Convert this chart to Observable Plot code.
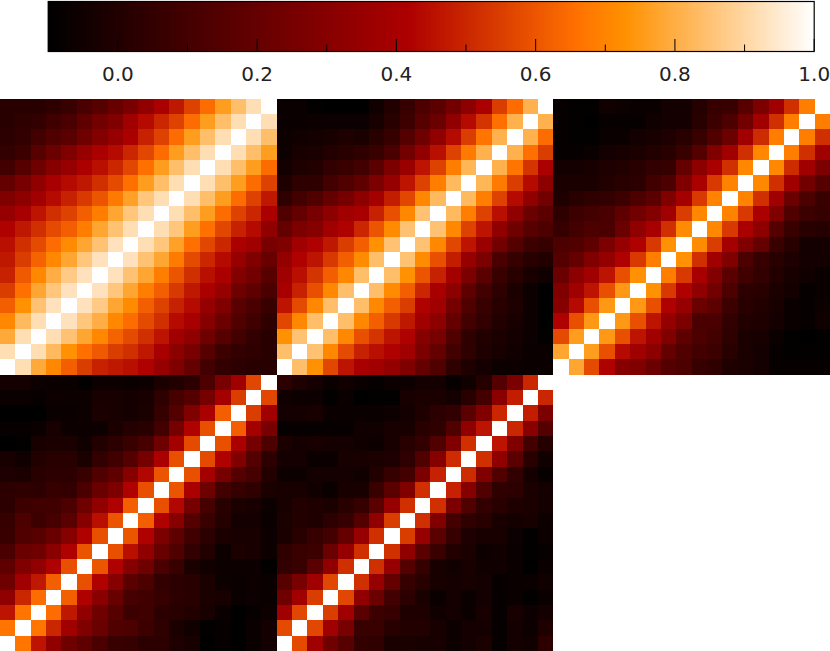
<!DOCTYPE html>
<html><head><meta charset="utf-8">
<script src="https://cdn.jsdelivr.net/npm/d3@7"></script>
<script src="https://cdn.jsdelivr.net/npm/@observablehq/plot@0.6"></script>
<style>html,body{margin:0;padding:0;background:#fff;overflow:hidden}svg{display:block}</style>
</head><body><div id="chart" style="width:830px;height:651px"></div>
<script>
// Upper-left triangle of each symmetric matrix, rows from the top, values x100
const panelA=[
[2,2,2,4,7,12,16,21,26,33,41,47,56,65,76,84,92,100],
[2,4,5,9,12,18,24,28,38,44,50,56,65,76,84,92,100],
[3,5,10,14,17,23,29,35,41,49,56,65,76,84,92,100],
[5,8,16,22,28,35,41,44,50,57,65,76,84,92,100],
[10,16,23,30,35,41,45,50,57,66,76,84,92,100],
[20,26,33,40,44,47,52,58,66,76,84,92,100],
[28,32,38,44,49,54,60,68,77,86,92,100],
[35,40,46,52,56,62,69,78,86,92,100],
[42,47,52,58,62,69,78,85,92,100],
[45,52,58,65,72,78,85,93,100],
[47,55,63,71,78,86,93,100],
[49,61,71,80,87,93,100],
[55,66,78,86,93,100],
[62,73,85,93,100],
[71,83,92,100],
[79,92,100],
[92,100],
[100]];
const panelB=[
[-7,-7,-9,-10,-10,-10,-5,0,6,13,17,24,32,41,55,65,81,100],
[-7,-7,-6,-6,-6,-6,-3,2,8,16,22,33,44,53,66,81,100],
[-6,-5,-4,-3,-1,-2,2,6,15,23,33,44,55,67,81,100],
[-6,-3,-2,0,2,4,7,12,24,33,45,56,68,81,100],
[-4,-1,0,5,7,10,17,27,36,46,56,69,82,100],
[-1,4,4,10,14,18,27,35,46,56,69,83,100],
[4,10,14,20,25,32,39,48,57,71,83,100],
[14,20,26,32,38,40,49,59,71,85,100],
[20,27,30,38,42,50,60,72,85,100],
[28,38,42,47,55,62,73,85,100],
[34,42,46,54,62,72,84,100],
[38,45,53,62,71,84,100],
[40,49,59,71,84,100],
[46,58,71,84,100],
[57,71,84,100],
[73,85,100],
[84,100],
[100]];
const panelC=[
[-8,-9,-9,-5,-6,-7,-7,-4,-4,1,6,7,16,27,38,52,69,100],
[-8,-9,-10,-8,-8,-8,-5,-4,-4,2,8,13,24,38,52,69,100],
[-8,-9,-9,-7,-7,-4,-3,-1,2,7,14,22,38,51,69,100],
[-8,-8,-7,-4,-3,-2,0,2,7,15,28,38,52,71,100],
[-4,-4,-3,-1,0,2,5,6,20,32,41,52,71,100],
[-2,-2,-2,0,2,3,9,13,28,41,54,70,100],
[-1,2,4,5,8,13,17,28,39,54,70,100],
[4,8,10,12,18,24,29,38,55,71,100],
[6,10,13,12,22,33,40,52,72,100],
[13,14,18,27,35,42,54,73,100],
[15,20,28,34,42,54,69,100],
[22,32,38,46,59,73,100],
[28,38,46,59,75,100],
[30,44,59,75,100],
[42,59,75,100],
[58,76,100],
[78,100],
[100]];
const panelD=[
[-4,-4,-6,-7,-7,-9,-6,-6,-7,-6,-2,0,3,13,26,38,57,100],
[-7,-7,-8,-6,-6,-6,-3,-3,-4,-3,4,11,15,25,39,55,100],
[-10,-10,-10,-7,-7,-6,-2,-3,-4,-2,6,15,28,41,62,100],
[-8,-8,-7,-3,-6,-6,-6,-2,1,2,10,25,42,59,100],
[-10,-9,-3,-2,-2,-5,0,3,7,11,23,39,58,100],
[-3,-5,0,2,2,-2,5,9,15,25,41,59,100],
[-1,-2,2,3,3,7,14,18,30,43,60,100],
[3,4,3,6,5,12,21,27,42,59,100],
[3,8,9,9,13,23,33,42,62,100],
[6,13,8,11,17,30,45,60,100],
[7,14,16,21,30,42,59,100],
[12,22,23,31,42,60,100],
[18,28,33,42,59,100],
[23,38,47,62,100],
[33,50,65,100],
[46,67,100],
[67,100],
[100]];
const panelE=[
[3,-1,-4,-7,-5,-7,-8,-6,-6,-4,-4,-8,-5,1,15,27,50,100],
[-5,-6,-6,-9,-7,-10,-9,-9,-3,-2,-2,-4,2,10,31,48,100],
[-4,-4,-3,-7,-7,-7,-7,-6,-4,-1,3,5,17,28,50,100],
[-8,-8,-8,-8,-8,-5,-5,-3,-3,2,4,14,33,46,100],
[-2,-4,-3,-4,-4,-5,-6,-3,2,5,14,28,52,100],
[-4,-4,-7,-7,-3,-3,-2,-1,4,14,30,51,100],
[-6,-6,-4,-4,-4,-5,0,6,10,27,49,100],
[-3,-3,-5,-7,-3,-3,7,17,28,52,100],
[-3,0,-1,-2,2,6,17,35,52,100],
[-2,0,-1,3,6,15,33,55,100],
[-2,2,6,10,20,35,52,100],
[4,7,8,22,35,52,100],
[5,7,17,33,52,100],
[16,26,38,57,100],
[23,38,55,100],
[38,57,100],
[58,100],
[100]];
const panels=[panelA,panelB,panelC,panelD,panelE];
const panelCol=[0,1,2,0,1];
const panelLine=[0,0,0,1,1];
const majorTicks=[0,0.2,0.4,0.6,0.8,1.0];
const minorTicks=[0.1,0.3,0.5,0.7,0.9];
const colorStops=[-0.1,0.418,0.659,0.728,1.0];
const colorRange=["#000000","#ae0000","#ff7000","#ff9000","#ffffff"];
const color={type:"linear",domain:colorStops,range:colorRange,interpolate:"rgb",clamp:true};

const cells=[];
panels.forEach((p,k)=>p.forEach((row,r)=>row.forEach((v,j)=>{
  cells.push({col:panelCol[k],line:panelLine[k],x:j,row:r,v:v/100});
  if(j!==17-r) cells.push({col:panelCol[k],line:panelLine[k],x:17-r,row:17-j,v:v/100});
})));

const barStep=1.1/256;
const barLevels=d3.range(256).map(i=>-0.1+i*barStep);
const bar=Plot.plot({
  width:830,height:98,marginLeft:47.7,marginRight:16.3,marginTop:1,marginBottom:47,
  style:{background:"transparent",overflow:"hidden"},
  x:{domain:[-0.1,1.0]},y:{domain:[0,1],axis:null},color,
  marks:[
    Plot.rect(barLevels,{x1:d=>d,x2:d=>d+barStep,y1:0,y2:1,fill:d=>d+barStep/2,shapeRendering:"crispEdges"}),
    Plot.ruleX(majorTicks,{y1:0,y2:0.24,stroke:"#000",strokeWidth:1}),
    Plot.ruleX(minorTicks,{y1:0,y2:0.13,stroke:"#000",strokeWidth:1}),
    Plot.frame({stroke:"#000",strokeWidth:1.2}),
    Plot.axisX(majorTicks,{anchor:"bottom",tickSize:0,tickPadding:15,tickFormat:d3.format(".1f"),fontSize:20,fontFamily:"DejaVu Sans",fill:"#222",label:null})
  ]
});
const grid=Plot.plot({
  width:830,height:553,marginLeft:0,marginRight:0,marginTop:0.5,marginBottom:0,
  style:{background:"transparent"},
  fx:{domain:[0,1,2],padding:0,axis:null,round:false},
  fy:{domain:[0,1],padding:0,axis:null,round:false},
  x:{type:"band",domain:d3.range(18),padding:0,axis:null,round:false},
  y:{type:"band",domain:d3.range(18),padding:0,axis:null,round:false},
  color,
  marks:[Plot.cell(cells,{x:"x",y:"row",fx:"col",fy:"line",fill:"v",shapeRendering:"crispEdges"})]
});
const root=document.getElementById("chart");
root.append(bar,grid);
</script></body></html>
